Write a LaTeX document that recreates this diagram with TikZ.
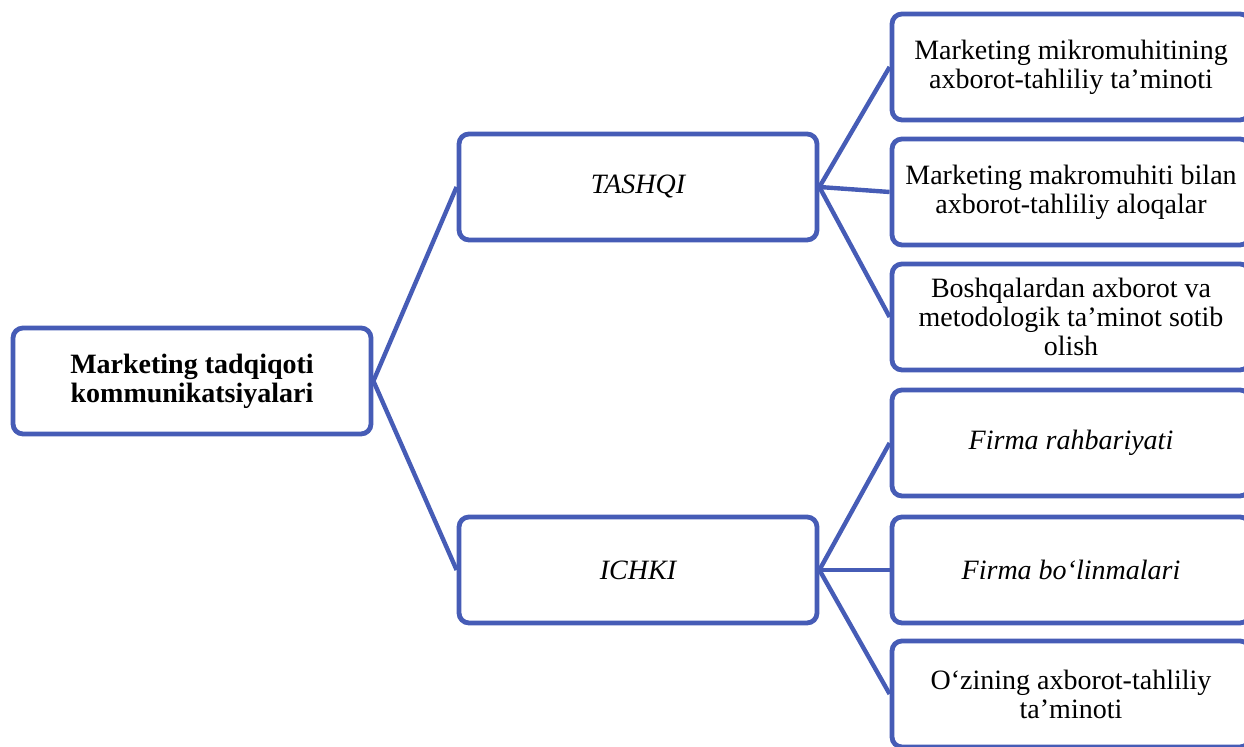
\documentclass[tikz,border=0pt]{standalone}
\usepackage{fontspec}
\setmainfont{Liberation Serif}
\definecolor{boxblue}{RGB}{70,92,182}

\begin{document}
\begin{tikzpicture}[x=0.5pt,y=-0.5pt,
  box/.style={draw=boxblue,line width=2.4pt,rounded corners=5pt,fill=white,
    minimum width=179pt,minimum height=53pt,align=center,inner sep=2pt,
    font=\fontsize{14}{14.5}\selectfont},
  head/.style={box,font=\fontsize{14}{14.5}\selectfont\bfseries},
  branch/.style={box,font=\fontsize{14}{14.5}\selectfont\itshape},
  link/.style={draw=boxblue,line width=2.2pt}]
\useasboundingbox (0,0) rectangle (1244,747);
% root and the two branches
\node[head] (root) at (192,381) {Marketing tadqiqoti\\kommunikatsiyalari};
\node[branch] (tashqi) at (638,187) {TASHQI};
\node[branch] (ichki) at (638,570) {ICHKI};
% leaves
\node[box] (mikro) at (1071,67) {Marketing mikromuhitining\\axborot-tahliliy ta’minoti};
\node[box] (makro) at (1071,192) {Marketing makromuhiti bilan\\axborot-tahliliy aloqalar};
\node[box] (boshqa) at (1071,317) {Boshqalardan axborot va\\metodologik ta’minot sotib\\olish};
\node[branch] (rahbar) at (1071,443) {Firma rahbariyati};
\node[branch] (bolinma) at (1071,570) {Firma bo‘linmalari};
\node[box] (ozining) at (1071,694) {O‘zining axborot-tahliliy\\ta’minoti};
% connectors
\foreach \b in {tashqi,ichki}
\draw[link] (root.east) -- (\b.west);
\foreach \l in {mikro,makro,boshqa}
\draw[link] (tashqi.east) -- (\l.west);
\foreach \l in {rahbar,bolinma,ozining}
\draw[link] (ichki.east) -- (\l.west);
\end{tikzpicture}
\end{document}
